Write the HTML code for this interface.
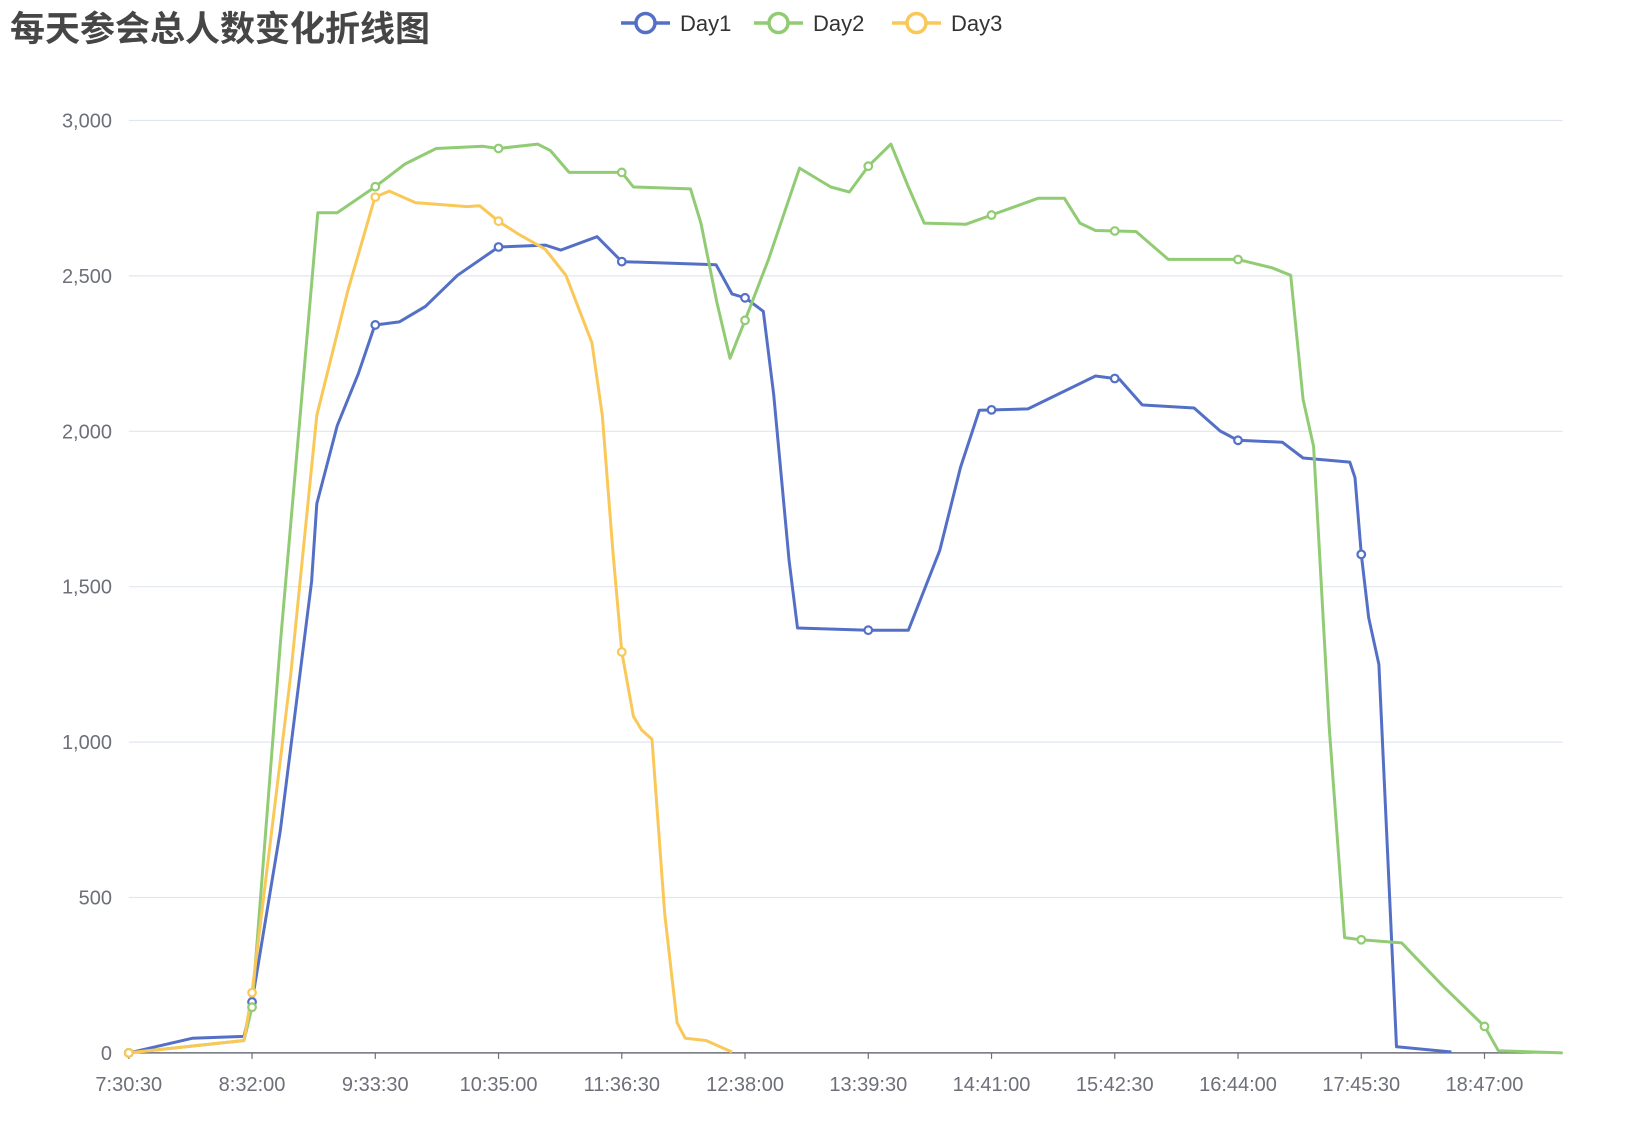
<!DOCTYPE html>
<html><head><meta charset="utf-8"><style>
html,body{margin:0;padding:0;background:#fff;}
svg{display:block;font-family:"Liberation Sans","Noto Sans CJK SC",sans-serif;}
</style></head><body>
<svg id="chart" width="1628" height="1128" viewBox="0 0 1628 1128" xmlns="http://www.w3.org/2000/svg">
<text x="10" y="41" font-size="35" font-weight="bold" fill="#464646" font-family="'Liberation Sans','Noto Sans CJK SC',sans-serif">每天参会总人数变化折线图</text>
<g id="legend"></g>
<g id="grid"></g>
<g id="series"></g>
</svg>
<script>
const tickLabels=["7:30:30","8:32:00","9:33:30","10:35:00","11:36:30","12:38:00","13:39:30","14:41:00","15:42:30","16:44:00","17:45:30","18:47:00"];
const yTicks=[0,500,1000,1500,2000,2500,3000];
const seriesNames=["Day1","Day2","Day3"];
// minutes since 7:30:30
const day1Times=[0,31.6,57.5,61.5,75.6,91.2,93.8,104,114.5,122.8,135,148,164,184.5,207.8,215.5,233.7,246,293,301,307.8,316.6,321.8,329.5,333.7,369,389,404.7,415,424.4,448.7,482.4,494.3,505.7,531.6,544.6,553.4,575.6,586,609.3,611.9,615,618.7,623.8,632.6,660];
const day1Values=[0,47,53,164,715,1517,1767,2018,2185,2342,2352,2402,2502,2593,2599,2583,2626,2546,2536,2442,2429,2386,2118,1584,1367,1360,1360,1617,1884,2068,2072,2178,2168,2085,2075,2001,1971,1965,1914,1901,1851,1604,1400,1250,20,3];
const day2Times=[0,57.5,61.5,75.6,94.3,104,122.8,137.8,153.4,176.7,184.5,204,210.4,219.7,246,251.8,280.3,285.5,293.3,300,307.8,319.2,334.7,350.3,359.6,369,380.3,389,396.9,417.6,430.6,453.9,466.8,474.6,482.4,502.6,518.7,553.4,570.5,579.8,586,591.2,599,606.7,615,635.2,656,676.7,683.4,715.5];
const day2Values=[0,40,147,1316,2703,2703,2786,2860,2910,2917,2910,2924,2903,2833,2833,2786,2780,2670,2419,2235,2362,2553,2847,2786,2770,2853,2924,2786,2670,2666,2696,2750,2750,2670,2646,2643,2553,2553,2526,2502,2102,1951,1049,371,364,354,214,84,7,0];
const day3Times=[0,57.5,61.5,80.8,93.8,109.3,122.8,130,143,168.9,175,184.5,194.8,207.8,218.1,231.1,236.3,241.5,246,251.8,255.9,261.1,267.4,273.6,277.7,288,301];
const day3Values=[0,40,194,1216,2051,2452,2753,2773,2736,2723,2726,2676,2633,2586,2502,2285,2051,1617,1290,1083,1039,1009,448,97,47,40,3];
const colors=["#5470c6","#91cc75","#fac858"];
const NS="http://www.w3.org/2000/svg";
const X0=128.8,PPM=2.004,Y0=1052.9,PPV=0.3108,XEND=1562.6,TICKSTEP=61.5;
const xs=t=>X0+t*PPM, ys=v=>Y0-v*PPV;
function mk(tag,attrs,parent){const e=document.createElementNS(NS,tag);for(const k in attrs)e.setAttribute(k,attrs[k]);parent.appendChild(e);return e;}
const grid=document.getElementById('grid');
yTicks.forEach(v=>{
  if(v>0){const l=mk('line',{x1:X0,x2:XEND,y1:ys(v),y2:ys(v),stroke:'#e0e6f1','stroke-width':1.2},grid);
  
  }
  const t=mk('text',{x:112,y:ys(v)+7,'text-anchor':'end','font-size':20,fill:'#6e7079'},grid);
  t.textContent=v.toLocaleString('en-US');
  
  
});
const ax=mk('line',{x1:X0,x2:XEND,y1:Y0,y2:Y0,stroke:'#6e7079','stroke-width':1.5},grid);


tickLabels.forEach((lab,i)=>{
  const x=xs(i*TICKSTEP);
  const tk=mk('line',{x1:x,x2:x,y1:Y0,y2:Y0+6,stroke:'#6e7079','stroke-width':1.2},grid);
  
  
  const t=mk('text',{x:x,y:Y0+38,'text-anchor':'middle','font-size':20,fill:'#6e7079'},grid);
  t.textContent=lab;
  
  
});
const allT=[day1Times,day2Times,day3Times], allV=[day1Values,day2Values,day3Values];
const sg=document.getElementById('series');
function interp(T,V,t){for(let i=1;i<T.length;i++){if(t<=T[i]){const f=(t-T[i-1])/(T[i]-T[i-1]||1);return V[i-1]+f*(V[i]-V[i-1]);}}return null;}
allT.forEach((T,s)=>{
  const d=T.map((t,i)=>(i?'L':'M')+xs(t).toFixed(1)+','+ys(allV[s][i]).toFixed(1)).join(' ');
  const p=mk('path',{d:d,fill:'none',stroke:colors[s],'stroke-width':3,'stroke-linejoin':'round'},sg);
  
  
});
allT.forEach((T,s)=>{
  tickLabels.forEach((lab,i)=>{
    const t=i*TICKSTEP; if(t>T[T.length-1])return;
    const v=i===0?allV[s][0]:interp(T,allV[s],t);
    const c=mk('circle',{cx:xs(t),cy:ys(v),r:3.8,fill:'#fff',stroke:colors[s],'stroke-width':2.2},sg);
    
    
  });
});
const lg=document.getElementById('legend');
const lx=[621,754,892];
seriesNames.forEach((n,i)=>{
  const g=mk('g',{},lg);
  
  
  mk('line',{x1:lx[i],x2:lx[i]+49,y1:23,y2:23,stroke:colors[i],'stroke-width':3.5},g);
  mk('circle',{cx:lx[i]+24.5,cy:23,r:9.5,fill:'#fff',stroke:colors[i],'stroke-width':3.5},g);
  const t=mk('text',{x:lx[i]+59,y:31,'font-size':22,fill:'#333'},g);
  t.textContent=n;
});
</script>
</body></html>
